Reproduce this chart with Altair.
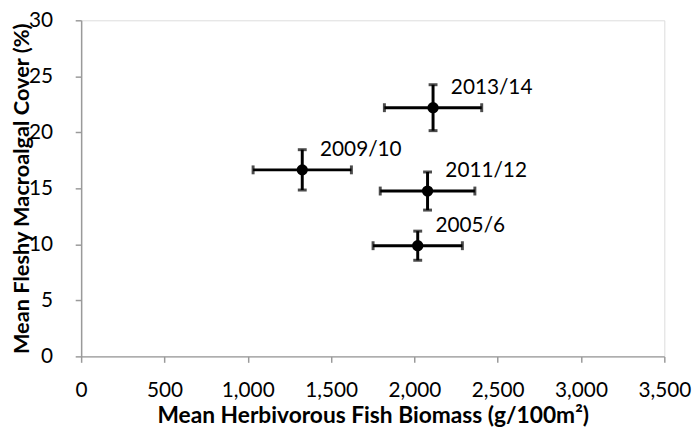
import altair as alt
import pandas as pd

years = ["2005/6", "2009/10", "2011/12", "2013/14"]
biomass = [2020, 1327, 2079, 2112]
biomass_err = [268, 295, 284, 292]
cover = [9.88, 16.65, 14.76, 22.2]
cover_err = [1.3, 1.8, 1.7, 2.05]

x_ticks = [0, 500, 1000, 1500, 2000, 2500, 3000, 3500]
y_ticks = [0, 5, 10, 15, 20, 25, 30]

df = pd.DataFrame({
    "year": years,
    "x": biomass,
    "y": cover,
    "xlo": [a - b for a, b in zip(biomass, biomass_err)],
    "xhi": [a + b for a, b in zip(biomass, biomass_err)],
    "ylo": [a - b for a, b in zip(cover, cover_err)],
    "yhi": [a + b for a, b in zip(cover, cover_err)],
})

FONT = "Lato"
AXIS_GREY = "#9a9a9a"

xscale = alt.Scale(domain=[0, 3500], nice=False, zero=False)
yscale = alt.Scale(domain=[0, 30], nice=False, zero=False)

xaxis = alt.Axis(
    values=x_ticks, format=",.0f", grid=False, title="Mean Herbivorous Fish Biomass (g/100m²)",
    domainColor=AXIS_GREY, tickColor=AXIS_GREY, tickSize=6, domainWidth=1.5, tickWidth=1.5,
    labelFont=FONT, labelFontSize=21, labelColor="black", labelPadding=18,
    titleFont=FONT, titleFontSize=23, titleFontWeight="bold", titleColor="black",
    titleY=60, titleBaseline="middle", labelFlush=False, labelOverlap=False,
)
yaxis = alt.Axis(
    values=y_ticks, grid=False, title="Mean Fleshy Macroalgal Cover (%)",
    domainColor=AXIS_GREY, tickColor=AXIS_GREY, tickSize=6, domainWidth=1.5, tickWidth=1.5,
    labelFont=FONT, labelFontSize=21, labelColor="black", labelPadding=23,
    titleFont=FONT, titleFontSize=22, titleFontWeight="bold", titleColor="black",
    titleX=-60, titleY=170, titleAngle=270, titleBaseline="middle", titleAlign="center",
    labelFlush=False, labelOverlap=False,
)

base = alt.Chart(df)

hbar = base.mark_rule(color="black", strokeWidth=3).encode(
    x=alt.X("xlo:Q", scale=xscale, axis=xaxis), x2="xhi:Q",
    y=alt.Y("y:Q", scale=yscale, axis=yaxis),
)
vbar = base.mark_rule(color="black", strokeWidth=3).encode(
    x=alt.X("x:Q", scale=xscale), y=alt.Y("ylo:Q", scale=yscale), y2="yhi:Q",
)
cap_xlo = base.mark_tick(color="black", orient="vertical", size=9, thickness=3).encode(
    x=alt.X("xlo:Q", scale=xscale), y=alt.Y("y:Q", scale=yscale))
cap_xhi = base.mark_tick(color="black", orient="vertical", size=9, thickness=3).encode(
    x=alt.X("xhi:Q", scale=xscale), y=alt.Y("y:Q", scale=yscale))
cap_ylo = base.mark_tick(color="black", orient="horizontal", size=9, thickness=3).encode(
    x=alt.X("x:Q", scale=xscale), y=alt.Y("ylo:Q", scale=yscale))
cap_yhi = base.mark_tick(color="black", orient="horizontal", size=9, thickness=3).encode(
    x=alt.X("x:Q", scale=xscale), y=alt.Y("yhi:Q", scale=yscale))
pts = base.mark_circle(color="black", size=130, opacity=1).encode(
    x=alt.X("x:Q", scale=xscale), y=alt.Y("y:Q", scale=yscale))
labels = base.mark_text(font=FONT, fontSize=21, color="black", align="left",
                        baseline="middle", dx=18, dy=-20).encode(
    x=alt.X("x:Q", scale=xscale), y=alt.Y("y:Q", scale=yscale), text="year:N")

chart = alt.layer(hbar, vbar, cap_xlo, cap_xhi, cap_ylo, cap_yhi, pts, labels).properties(
    width=590, height=340,
    autosize=alt.AutoSizeParams(type="none"),
    padding={"left": 74, "top": 10, "right": 28, "bottom": 70},
).configure_view(stroke=None).configure(background="white")

chart.save("out.html", embed_options={"renderer": "svg", "actions": False})
